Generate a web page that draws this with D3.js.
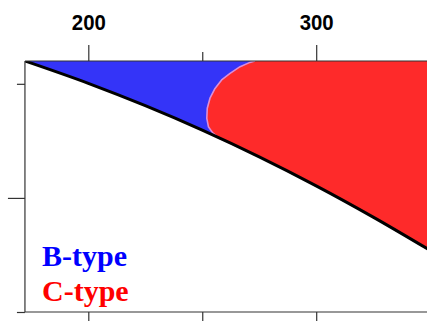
<!DOCTYPE html>
<html>
<head>
<meta charset="utf-8">
<script src="https://cdn.jsdelivr.net/npm/d3@7"></script>
<style>
  html, body { margin: 0; padding: 0; background: #fff; overflow: hidden; }
  svg { display: block; }
</style>
</head>
<body>
<svg id="chart" width="427" height="321"></svg>
<script>
// Lower phase boundary (black line): x along the top axis, y along the left axis
const boundaryX = [172.2, 200, 225, 250, 275, 300, 325, 350];
const boundaryY = [4.0, 4.98, 5.96, 7.03, 8.20, 9.47, 10.84, 12.30];

// Boundary separating the B-type and C-type fields
const bcX = [273.1, 270.9, 266.6, 262.2, 258.5, 255.6, 253.4, 252.2, 252.0, 252.7, 254.6, 257.0];
const bcY = [4.0, 4.06, 4.25, 4.54, 4.83, 5.20, 5.63, 6.07, 6.51, 6.88, 7.15, 7.36];

// Axis ticks
const xMajorTicks = [200, 300];
const xMinorTicks = [250];
const yMajorTicks = [10];
const yMinorTicks = [5, 15];

// Legend entries
const legendLabels = ["B-type", "C-type"];
const legendColors = ["#0000ff", "#ff0000"];

const svg = d3.select("#chart");

const x = d3.scaleLinear().domain([200, 300]).range([88.3, 316.2]);
const y = d3.scaleLinear().domain([4, 15]).range([61, 312]);

const plotLeft = x(172.2), plotRight = 440, plotTop = y(4), plotBottom = y(15);
const xEnd = 350;

svg.append("defs").append("clipPath").attr("id", "plot-clip")
  .append("rect").attr("x", plotLeft).attr("y", plotTop)
  .attr("width", plotRight - plotLeft).attr("height", plotBottom - plotTop);

const plot = svg.append("g").attr("clip-path", "url(#plot-clip)");

const curvePts = boundaryX.map((d, i) => [d, boundaryY[i]]);
const bcPts = bcX.map((d, i) => [d, bcY[i]]);

// B-type field: everything above the lower boundary
plot.append("path")
  .datum(curvePts)
  .attr("fill", "#3434f8")
  .attr("d", d3.area()
    .x(d => x(d[0]))
    .y0(plotTop - 2)
    .y1(d => y(d[1]))
    .curve(d3.curveMonotoneX));

// C-type field: right of the B/C boundary, above the lower boundary
const redPts = bcPts
  .concat(curvePts.filter(p => p[0] > bcX[bcX.length - 1]))
  .concat([[xEnd + 20, boundaryY[boundaryY.length - 1] + 1.3], [xEnd + 20, 3.9], [bcX[0], 3.9]]);

plot.append("path")
  .datum(redPts)
  .attr("fill", "#fe2a2a")
  .attr("stroke", "#dc8ed8")
  .attr("stroke-width", 1.6)
  .attr("stroke-linejoin", "round")
  .attr("d", d3.line().x(d => x(d[0])).y(d => y(d[1])));

// Lower boundary line
plot.append("path")
  .datum(curvePts)
  .attr("fill", "none")
  .attr("stroke", "#000")
  .attr("stroke-width", 3)
  .attr("d", d3.line().x(d => x(d[0])).y(d => y(d[1])).curve(d3.curveMonotoneX));

// Frame
const frame = svg.append("g").attr("stroke", "#333").attr("stroke-width", 1.2).attr("fill", "none");
frame.append("line").attr("x1", plotLeft).attr("x2", plotRight).attr("y1", plotTop).attr("y2", plotTop);
frame.append("line").attr("x1", plotLeft).attr("x2", plotLeft).attr("y1", plotTop).attr("y2", plotBottom);
frame.append("line").attr("x1", plotLeft).attr("x2", plotRight).attr("y1", plotBottom).attr("y2", plotBottom);

function styleAxis(g) {
  g.select(".domain").remove();
  g.selectAll(".tick line").attr("stroke", "#333").attr("stroke-width", 1.2);
}

// Top axis
svg.append("g").attr("transform", `translate(0,${plotTop})`)
  .call(d3.axisTop(x).tickValues(xMajorTicks).tickSize(16).tickPadding(15).tickFormat(d3.format("d")))
  .call(styleAxis)
  .call(g => g.selectAll(".tick text")
    .attr("fill", "#000")
    .attr("font-family", "'Liberation Sans', Arial, sans-serif")
    .attr("font-weight", "bold")
    .attr("font-size", 22)
    .attr("textLength", 34)
    .attr("lengthAdjust", "spacingAndGlyphs"));
svg.append("g").attr("transform", `translate(0,${plotTop})`)
  .call(d3.axisTop(x).tickValues(xMinorTicks).tickSize(9).tickFormat(""))
  .call(styleAxis);

// Bottom axis (labels fall outside the view)
svg.append("g").attr("transform", `translate(0,${plotBottom})`)
  .call(d3.axisBottom(x).tickValues(xMajorTicks.concat(xMinorTicks)).tickSize(14).tickFormat(""))
  .call(styleAxis);

// Left axis
svg.append("g").attr("transform", `translate(${plotLeft},0)`)
  .call(d3.axisLeft(y).tickValues(yMajorTicks).tickSize(17).tickFormat(""))
  .call(styleAxis);
svg.append("g").attr("transform", `translate(${plotLeft},0)`)
  .call(d3.axisLeft(y).tickValues(yMinorTicks).tickSize(8).tickFormat(""))
  .call(styleAxis);

// Legend
svg.append("g").selectAll("text")
  .data(legendLabels)
  .join("text")
  .attr("x", 42)
  .attr("y", (d, i) => 265.5 + i * 35)
  .attr("fill", (d, i) => legendColors[i])
  .attr("font-family", "'Liberation Serif', 'Times New Roman', serif")
  .attr("font-weight", "bold")
  .attr("font-size", 30)
  .text(d => d);
</script>
</body>
</html>
